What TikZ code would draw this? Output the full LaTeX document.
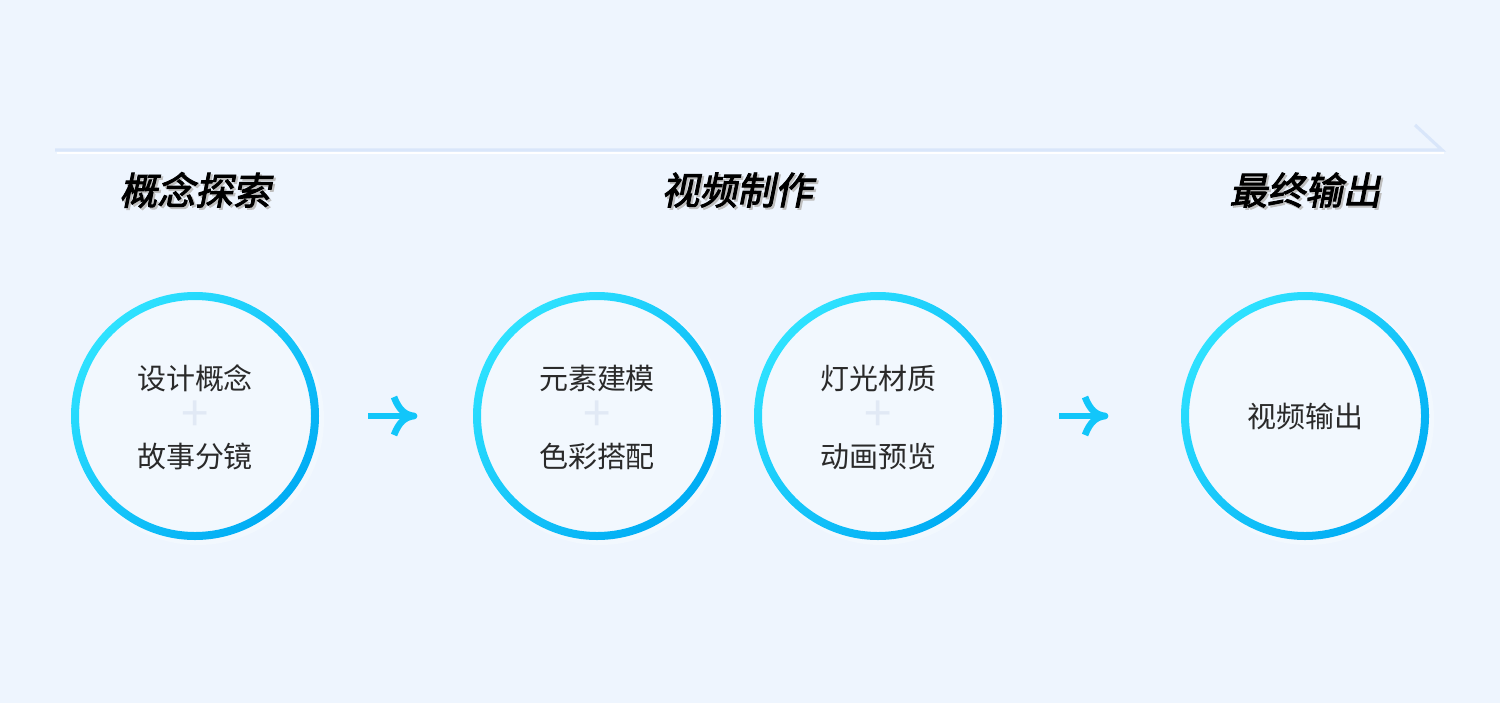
\documentclass[tikz,border=0pt]{standalone}
\usepackage{fontspec}
\usepackage{tikz}
\usetikzlibrary{positioning}
\newfontfamily\cjk{Noto Sans CJK SC}
\newfontfamily\cjktitle[FakeSlant=0.2,FakeBold=2.5]{Noto Sans CJK SC}
\definecolor{bgblue}{HTML}{EEF5FE}
\definecolor{ringtop}{HTML}{2EE2FF}
\definecolor{ringbot}{HTML}{00ACF4}
\definecolor{lineblue}{HTML}{D9E6FA}
\definecolor{plusgray}{HTML}{E1E9F5}
\definecolor{arrowblue}{HTML}{12C6FA}
\definecolor{txtgray}{HTML}{2A2A2A}
\tikzset{
  stagetitle/.style={font=\cjktitle\fontsize{21.5}{21.5}\selectfont,text=black},
  stageshadow/.style={font=\cjktitle\fontsize{21.5}{21.5}\selectfont,text=black!25},
  steptext/.style={font=\cjk\fontsize{16.5}{16.5}\selectfont,text=txtgray,inner sep=0pt},
  plustext/.style={font=\cjk\fontsize{28}{28}\selectfont,text=plusgray,inner sep=0pt},
  ringnode/.style={circle,minimum size=248,inner sep=0pt},
  flowarrow/.style={arrowblue,line width=3.8,line cap=butt,line join=round}
}
\newcommand{\ring}[2]{%
  \shade[even odd rule,top color=ringtop,bottom color=ringbot,shading angle=45]
    (#1,#2) circle (124) (#1,#2) circle (116);
}
\begin{document}
\begin{tikzpicture}[x=0.02cm,y=-0.02cm]
\fill[bgblue] (0,0) rectangle (1500,703);
\useasboundingbox (0,0) rectangle (1500,703);

% time line
\coordinate (L0) at (55,150);
\coordinate (L1) at (1442,150);
\coordinate (T0) at (1415,125);
\draw[white,line width=1.5] (57,153) -- (1444,153);
\draw[lineblue,line width=1.8] (L0) -- (L1) -- (T0);

% stage titles
\node[stageshadow] at (197,192) {概念探索};
\node[stagetitle] (S1) at (195,190) {概念探索};
\node[stageshadow] at (739,192) {视频制作};
\node[stagetitle] (S2) at (737,190) {视频制作};
\node[stageshadow] at (1307,192) {最终输出};
\node[stagetitle] (S3) at (1305,190) {最终输出};

% circles
\fill[white!25!bgblue] (198,419) circle (126);
\ring{195}{416}
\node[ringnode] (C1) at (195,416) {};
\fill[white!25!bgblue] (600,419) circle (126);
\ring{597}{416}
\node[ringnode] (C2) at (597,416) {};
\fill[white!25!bgblue] (881,419) circle (126);
\ring{878}{416}
\node[ringnode] (C3) at (878,416) {};
\fill[white!25!bgblue] (1308,419) circle (126);
\ring{1305}{416}
\node[ringnode] (C4) at (1305,416) {};

% texts
\node[steptext] (A1) at (195,378) {设计概念};
\node[plustext] (P1) at (195,416) {+};
\node[steptext] (B1) at (195,456) {故事分镜};
\node[steptext] (A2) at (597,378) {元素建模};
\node[plustext] (P2) at (597,416) {+};
\node[steptext] (B2) at (597,456) {色彩搭配};
\node[steptext] (A3) at (878,378) {灯光材质};
\node[plustext] (P3) at (878,416) {+};
\node[steptext] (B3) at (878,456) {动画预览};
\node[steptext] (A4) at (1305,416) {视频输出};

% arrows
\coordinate (R1a) at (368,416);
\coordinate (R1b) at (412,416);
\draw[flowarrow] (R1a) -- (R1b);
\draw[flowarrow] (394,397) .. controls (399,410) and (405,415) .. (414,416)
                 .. controls (405,417) and (399,422) .. (394,435);
\coordinate (R2a) at (1059,416);
\coordinate (R2b) at (1103,416);
\draw[flowarrow] (R2a) -- (R2b);
\draw[flowarrow] (1085,397) .. controls (1090,410) and (1096,415) .. (1105,416)
                 .. controls (1096,417) and (1090,422) .. (1085,435);
\end{tikzpicture}
\end{document}
